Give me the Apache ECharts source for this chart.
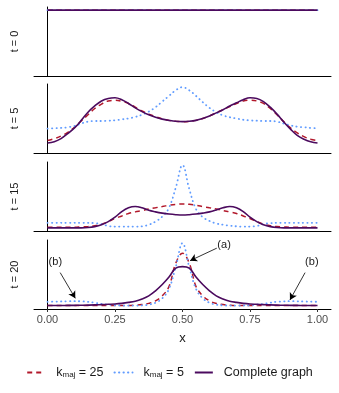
<!DOCTYPE html>
<html><head><meta charset="utf-8">
<script src="https://cdn.jsdelivr.net/npm/echarts@6/dist/echarts.min.js"></script>
<style>html,body{margin:0;padding:0;background:#fff}#c{width:339px;height:393px}</style>
</head><body><div id="c"></div>
<script>
// shared x grid
const xs = [0,0.025,0.05,0.075,0.1,0.125,0.15,0.175,0.2,0.225,0.25,0.275,0.3,0.325,0.35,0.375,0.4,0.425,0.45,0.475,0.5,
            0.525,0.55,0.575,0.6,0.625,0.65,0.675,0.7,0.725,0.75,0.775,0.8,0.825,0.85,0.875,0.9,0.925,0.95,0.975,1];
const panelTitles = ['t = 0','t = 5','t = 15','t = 20'];
const xTicks = [0,0.25,0.5,0.75,1];

// t = 0
const t0_k25  = [1,1,1,1,1,1,1,1,1,1,1,1,1,1,1,1,1,1,1,1,1,1,1,1,1,1,1,1,1,1,1,1,1,1,1,1,1,1,1,1,1];
const t0_k5   = [1,1,1,1,1,1,1,1,1,1,1,1,1,1,1,1,1,1,1,1,1,1,1,1,1,1,1,1,1,1,1,1,1,1,1,1,1,1,1,1,1];
const t0_full = [1,1,1,1,1,1,1,1,1,1,1,1,1,1,1,1,1,1,1,1,1,1,1,1,1,1,1,1,1,1,1,1,1,1,1,1,1,1,1,1,1];
// t = 5
const t5_k25  = [0.15,0.18,0.22,0.28,0.36,0.46,0.56,0.66,0.73,0.78,0.79,0.775,0.74,0.68,0.62,0.57,0.53,0.495,0.47,0.455,0.45,
                 0.455,0.47,0.50,0.54,0.59,0.64,0.69,0.74,0.78,0.79,0.78,0.74,0.66,0.56,0.45,0.35,0.27,0.21,0.17,0.15];
const t5_k5   = [0.34,0.345,0.35,0.36,0.38,0.42,0.45,0.46,0.46,0.465,0.47,0.485,0.50,0.525,0.56,0.61,0.68,0.77,0.86,0.95,1.0,
                 0.95,0.86,0.76,0.67,0.60,0.55,0.52,0.50,0.48,0.47,0.465,0.46,0.46,0.45,0.42,0.39,0.37,0.36,0.35,0.345];
const t5_full = [0.11,0.13,0.18,0.26,0.35,0.47,0.60,0.70,0.78,0.82,0.83,0.80,0.74,0.67,0.61,0.56,0.52,0.49,0.47,0.455,0.45,
                 0.455,0.47,0.50,0.54,0.59,0.64,0.70,0.75,0.80,0.83,0.82,0.77,0.68,0.57,0.445,0.33,0.23,0.17,0.13,0.11];
// t = 15
const t15_k25  = [0.01,0.01,0.01,0.01,0.01,0.015,0.02,0.035,0.06,0.10,0.15,0.19,0.23,0.255,0.275,0.30,0.32,0.34,0.36,0.375,0.38,
                  0.375,0.36,0.34,0.32,0.30,0.275,0.255,0.23,0.19,0.15,0.10,0.06,0.035,0.02,0.015,0.01,0.01,0.01,0.01,0.01];
const t15_k5   = [0.08,0.08,0.08,0.08,0.08,0.08,0.08,0.075,0.06,0.03,0.02,0.02,0.02,0.02,0.025,0.05,0.10,0.18,0.32,0.64,1.0,
                  0.62,0.30,0.17,0.11,0.07,0.05,0.035,0.025,0.02,0.02,0.03,0.06,0.075,0.08,0.08,0.08,0.08,0.08,0.08,0.08];
const t15_full = [0,0,0,0,0,0,0.005,0.02,0.05,0.10,0.17,0.26,0.32,0.34,0.32,0.28,0.255,0.235,0.22,0.21,0.205,
                  0.21,0.22,0.235,0.255,0.285,0.32,0.34,0.32,0.26,0.17,0.10,0.05,0.02,0.005,0,0,0,0,0,0];
// t = 20
const t20_k25  = [0.005,0.005,0.005,0.005,0.005,0.005,0.005,0.005,0.005,0.005,0.005,0.005,0.005,0.01,0.02,0.04,0.08,0.16,0.31,0.68,0.84,
                  0.68,0.31,0.16,0.08,0.04,0.02,0.01,0.005,0.005,0.005,0.005,0.005,0.005,0.005,0.005,0.005,0.005,0.005,0.005,0.005];
const t20_k5   = [0.065,0.068,0.07,0.073,0.075,0.072,0.065,0.05,0.03,0.02,0.01,0.006,0.005,0.005,0.008,0.02,0.05,0.12,0.27,0.62,1.0,
                  0.62,0.27,0.12,0.05,0.02,0.008,0.005,0.005,0.006,0.01,0.02,0.03,0.05,0.065,0.072,0.075,0.073,0.07,0.068,0.065];
const t20_full = [0.005,0.005,0.006,0.007,0.008,0.01,0.012,0.015,0.02,0.025,0.03,0.04,0.055,0.075,0.11,0.16,0.24,0.34,0.46,0.60,0.625,
                  0.60,0.46,0.34,0.24,0.16,0.11,0.075,0.055,0.04,0.03,0.025,0.02,0.015,0.012,0.01,0.008,0.007,0.006,0.005,0.005];

const k25Data  = [t0_k25, t5_k25, t15_k25, t20_k25];
const k5Data   = [t0_k5, t5_k5, t15_k5, t20_k5];
const fullData = [t0_full, t5_full, t15_full, t20_full];

// annotations (panel t = 20), data coordinates
const annoText = [{label:'(a)', at:[0.654,0.97]}, {label:'(b)', at:[0.029,0.705]}, {label:'(b)', at:[0.979,0.705]}];
const annoArrows = [[[0.627,0.92],[0.528,0.72]], [[0.047,0.53],[0.103,0.12]], [[0.954,0.53],[0.898,0.094]]];

const colK25 = '#B2182B', colK5 = '#619CFF', colFull = '#4B0A5E';
const FONT = 'Liberation Sans';
const tops = [7, 84, 162, 240];
const H = 69;

const pairs = d => xs.map((x,i)=>[x,d[i]]);

const grids = [], xAxes = [], yAxes = [], series = [];
for (let p = 0; p < 4; p++) {
  const last = p === 3;
  grids.push({left:34, right:8, top:tops[p], height:H});
  xAxes.push({type:'value', gridIndex:p, min:-0.05, max:1.05,
    axisLine:{show:true, onZero:false, lineStyle:{color:'#000', width:1}},
    axisTick:{show:last, customValues:xTicks, length:3, lineStyle:{color:'#333'}},
    axisLabel:{show:last, customValues:xTicks, formatter:v=>v.toFixed(2), color:'#4D4D4D', fontSize:11, fontFamily:FONT, margin:5},
    splitLine:{show:false},
    name: last ? 'x' : '', nameLocation:'middle', nameGap:23,
    nameTextStyle:{color:'#1A1A1A', fontSize:13, fontFamily:FONT}});
  yAxes.push({type:'value', gridIndex:p, min:-0.05, max:1.05,
    axisLine:{show:true, lineStyle:{color:'#000', width:1}},
    axisTick:{show:false}, axisLabel:{show:false}, splitLine:{show:false},
    name: panelTitles[p], nameLocation:'middle', nameGap:14,
    nameTextStyle:{color:'#1A1A1A', fontSize:11, fontFamily:FONT}});
  const common = {type:'line', xAxisIndex:p, yAxisIndex:p, symbol:'none', smooth:0.4, animation:false, silent:true};
  series.push(Object.assign({}, common, {name:'k25', data:pairs(k25Data[p]), lineStyle:{color:colK25, width:1.5, type:[5,4]}, itemStyle:{color:colK25}}));
  series.push(Object.assign({}, common, {name:'k5', data:pairs(k5Data[p]), lineStyle:{color:colK5, width:1.8, type:[0.3,4.2], cap:'round'}, itemStyle:{color:colK5}}));
  const s = Object.assign({}, common, {name:'Complete graph', data:pairs(fullData[p]), lineStyle:{color:colFull, width:1.6}, itemStyle:{color:colFull}});
  if (last) {
    s.markLine = {silent:true, animation:false, symbol:['none','arrow'], symbolSize:[6,7],
      lineStyle:{color:'#000', width:0.8, type:'solid'}, label:{show:false},
      data: annoArrows.map(a=>[{coord:a[0]},{coord:a[1]}])};
    s.markPoint = {silent:true, animation:false, symbol:'circle', symbolSize:1, itemStyle:{color:'rgba(0,0,0,0)'},
      label:{show:true, position:'inside', color:'#1A1A1A', fontSize:11, fontFamily:FONT, formatter:pp=>pp.name},
      data: annoText.map(t=>({name:t.label, coord:t.at}))};
  }
  series.push(s);
}

const chart = echarts.init(document.getElementById('c'), null, {renderer:'canvas'});
chart.setOption({
  backgroundColor:'#fff',
  animation:false,
  grid:grids, xAxis:xAxes, yAxis:yAxes, series:series,
  legend:{bottom:9, left:'center', itemWidth:18, itemHeight:10, itemGap:10,
    itemStyle:{opacity:0},
    data:['k25','k5','Complete graph'],
    formatter: n => n==='k25' ? '{k|k}{s|maj}{n| = 25}' : n==='k5' ? '{k|k}{s|maj}{n| = 5}' : '{c|Complete graph}',
    textStyle:{fontFamily:FONT, fontSize:12.5, color:'#1A1A1A',
      rich:{k:{fontSize:12.5, fontFamily:FONT, color:'#1A1A1A', padding:[0,0,0,6]},
            s:{fontSize:8, fontFamily:FONT, color:'#1A1A1A', verticalAlign:'bottom', padding:[5,0,0,0]},
            n:{fontSize:12.5, fontFamily:FONT, color:'#1A1A1A'},
            c:{fontSize:12.5, fontFamily:FONT, color:'#1A1A1A', padding:[0,0,0,6]}}}}
});
</script></body></html>
